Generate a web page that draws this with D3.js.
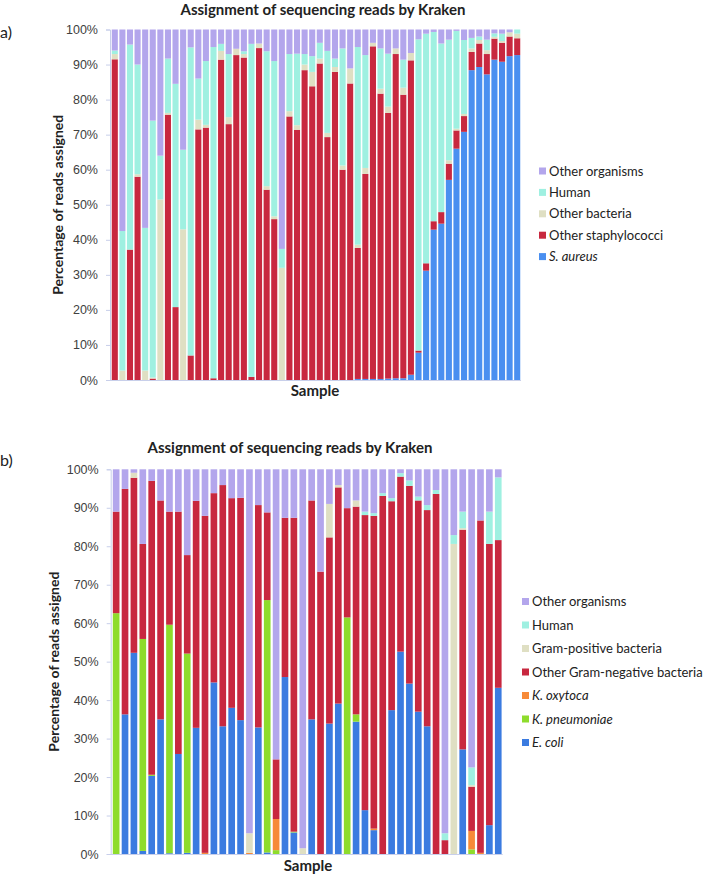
<!DOCTYPE html>
<html>
<head>
<meta charset="utf-8">
<title>Assignment of sequencing reads by Kraken</title>
<script src="https://d3js.org/d3.v7.min.js"></script>
<style>
  body { margin: 0; background: #fff; }
  svg { display: block; font-family: Lato, "Open Sans", sans-serif; }
</style>
</head>
<body>
<svg width="708" height="875"></svg>
<script>
// ---- panel a: S. aureus samples (percent of reads, one entry per sample) ----
const aAureus = [0,0,0,0,0,0,0,0,0,0,0,0,0,0,0,0,0,0,0,0,0,0,0,0,0,0,0,0,0,0,0,0,
  0.3,0.3,0.3,0.3,0.4,0.5,0.5,1.5,7.8,31.2,42.9,44.6,57.1,66,70.8,88.4,89.3,87.2,91.4,90.8,92.4,92.7];
const aStaph = [91.5,0,37.2,58,0,0.4,0,75.7,20.8,0,7,71.5,72,0.5,91.4,73,92.7,92,0.9,94.7,54.3,45.9,0,75.2,71.4,88.4,83.8,90.3,69.3,87.9,60,84.6,
  37.4,58.5,94.9,81.4,75.8,92.5,80.9,89.7,0.6,2.1,2.4,3.3,4.6,5.2,4.5,5.2,6.7,5.8,6,5.4,5.6,4.8];
const aOtherBact = [1.5,2.7,0,0.7,2.7,0.3,51.5,0.5,0,43,0,2.8,0.8,0,2.5,2,1.8,1,0,1.3,1,0.8,32,1.5,1.3,1.6,4.1,1.4,1.2,1.4,1.2,4.3,
  0.9,1.7,1,1.4,1.8,1.6,2,2.1,0,0,0,0,1,0.5,0.6,1,1,1.1,0.5,0.5,1.2,1.3];
const aHuman = [1,39.8,58.5,31.3,40.7,73.3,12.5,15.5,63.7,22.7,87.9,11.7,18.2,94.5,2,18,0,0.8,95,0,38.5,44.3,5.4,16.3,20.4,3,4.5,4.5,23.4,2.4,33.4,0,
  56.4,32.2,0,11.5,15.1,0,8,0,88.8,65.5,54,48.1,34.4,27.9,21.1,3,1,3,1,2.1,0,1.2];
const aOther = [6,57.5,4.3,10,56.6,26,36,8.3,15.5,34.3,5.1,14,9,5,4.1,7,5.5,6.2,4.1,4,6.2,9,62.6,7,6.9,7,7.6,3.8,6.1,8.3,5.4,11.1,
  5,7.3,3.8,5.4,6.9,5.4,8.6,6.7,2.8,1.2,0.7,4,2.9,0.4,3,2.4,2,2.9,1.1,1.2,0.8,0];

// ---- panel b: Gram-negative samples ----
const bEcoli = [0,36.3,52.3,0.8,20.3,35,0.2,26,0.3,32.8,0,44.6,33.2,38,34.8,0,32.9,0.4,0,46,5.6,0,35,0,33.9,39.1,0,34.4,11.4,6.2,0,37.4,52.6,44.3,37,33.2,0,0,0,27.2,0,0,7.5,43.2];
const bKpn = [62.6,0,0,55.1,0.3,0,59.4,0,51.8,0,0,0,0,0,0,0,0,65.6,1,0,0.2,0,0,0,0,0,61.5,1.9,0,0,0,0,0,0,0,0,0,0,0,0,1.2,0,0,0];
const bKox = [0,0,0,0,0,0,0,0,0,0,0.3,0,0,0,0,0.3,0,0,8.1,0,0,0,0,0,0,0,0,0,0,0.4,0,0,0,0,0,0,0,0,0,0,4.8,0.3,0,0];
const bOtherGN = [26.4,58.6,45.5,24.7,76.4,56.9,29.4,63,25.6,59,87.6,49.2,62.7,54.5,57.8,0,57.8,22.8,15.5,41.4,81.6,0,56.9,73.4,48.4,56.2,28.4,54,76.7,81.3,93.1,54.3,45.5,51.4,54.9,56.2,93.6,3.6,0,57.1,11.5,86.4,73.1,38.4];
const bGramPos = [0,0,1.3,0,0,0,0,0,0,0,0,0,0,0,0,5.1,0,0,0,0,0,1.5,0,0,8.7,0.6,0,1.6,0,0,0,0,0,0,0,0,0,0,80.6,0.4,0.4,0,0,0];
const bHuman = [0,0,0,0,0,0,0,0,0,0,0,0,0,0,0,0,0,0,0,0,0,0,0,0,0,0,0,0,0.9,0.7,0.7,0.8,0.9,1.4,1,1.3,1,1.8,2.3,4.3,4.6,0,8.4,16.3];
const bOther = [11,5.1,0.9,19.4,3,8.1,11,11,22.3,8.2,12.1,6.2,4.1,7.5,7.4,94.6,9.3,11.2,75.4,12.6,12.6,98.5,8.1,26.6,9,4.1,10.1,8.1,11,11.4,6.2,7.5,1,2.9,7.1,9.3,5.4,94.6,17.1,11,77.5,13.3,11,2.1];

const percentTicks = d3.range(0, 101, 10);
const titleText = "Assignment of sequencing reads by Kraken";

const svg = d3.select("svg");

function drawPanel(p) {
  const n = p.series[0].values.length;
  const rows = d3.range(n).map(i => {
    const r = { id: i };
    p.series.forEach(s => r[s.key] = s.values[i]);
    return r;
  });
  const keys = p.series.map(s => s.key);
  const stacked = d3.stack().keys(keys)(rows);

  const x = d3.scaleBand().domain(d3.range(n)).range([p.left, p.right]).paddingInner(p.pad).paddingOuter(p.pad / 2);
  const y = d3.scaleLinear().domain([0, 100]).range([p.bottom, p.top]);

  const g = svg.append("g");

  g.append("g")
    .selectAll("g")
    .data(stacked)
    .join("g")
    .attr("fill", d => p.series.find(s => s.key === d.key).color)
    .selectAll("rect")
    .data(d => d)
    .join("rect")
    .attr("x", d => x(d.data.id))
    .attr("width", x.bandwidth())
    .attr("y", d => y(d[1]))
    .attr("height", d => Math.max(0, y(d[0]) - y(d[1])));

  // axes
  const yAxis = g.append("g")
    .attr("transform", `translate(${p.left - 1},0)`)
    .call(d3.axisLeft(y).tickValues(percentTicks).tickFormat(d => d + "%").tickSize(4).tickPadding(8));
  yAxis.select(".domain").attr("stroke", "#c8cfea");
  yAxis.selectAll(".tick line").attr("stroke", "#c8cfea");
  yAxis.selectAll("text").attr("font-size", 12.5).attr("fill", "#404040");

  g.append("line")
    .attr("x1", p.left - 1).attr("x2", p.right)
    .attr("y1", p.bottom + 0.5).attr("y2", p.bottom + 0.5)
    .attr("stroke", "#c8cfea");

  // titles
  g.append("text")
    .attr("x", p.titleX).attr("y", p.titleY)
    .attr("text-anchor", "middle").attr("font-weight", "bold").attr("font-size", 15)
    .attr("fill", "#222")
    .text(titleText);

  g.append("text")
    .attr("x", 0).attr("y", p.letterY)
    .attr("font-size", 16).attr("fill", "#222")
    .text(p.letter);

  g.append("text")
    .attr("transform", `translate(${p.yLabelX},${(p.top + p.bottom) / 2}) rotate(-90)`)
    .attr("text-anchor", "middle").attr("font-weight", "bold").attr("font-size", 14)
    .attr("fill", "#222")
    .text("Percentage of reads assigned");

  g.append("text")
    .attr("x", p.sampleX).attr("y", p.sampleY)
    .attr("text-anchor", "middle").attr("font-weight", "bold").attr("font-size", 15)
    .attr("fill", "#222")
    .text("Sample");

  // legend, top entry is the top of the stack
  const legendItems = p.series.slice().reverse();
  const lg = g.append("g")
    .selectAll("g")
    .data(legendItems)
    .join("g")
    .attr("transform", (d, i) => `translate(${p.legendX},${p.legendY + i * p.legendStep})`);
  lg.append("rect")
    .attr("x", 0).attr("y", -3.5).attr("width", 7).attr("height", 7)
    .attr("fill", d => d.color);
  lg.append("text")
    .attr("x", 10).attr("y", 0).attr("dy", "0.35em")
    .attr("font-size", 13).attr("fill", "#222")
    .attr("font-style", d => d.italic ? "italic" : "normal")
    .text(d => d.label);
}

const cLav = "#b3a6ec", cAqua = "#9ff0e1", cBeige = "#dfdfc3", cRed = "#c8283f";

drawPanel({
  letter: "a)", letterY: 38,
  left: 111, right: 521, top: 29.5, bottom: 380, pad: 0.2,
  titleX: 323, titleY: 15,
  yLabelX: 63, sampleX: 315, sampleY: 396,
  legendX: 539, legendY: 171, legendStep: 21.4,
  series: [
    { key: "aureus", values: aAureus, color: "#4a8ff0", label: "S. aureus", italic: true },
    { key: "staph", values: aStaph, color: cRed, label: "Other staphylococci" },
    { key: "bact", values: aOtherBact, color: cBeige, label: "Other bacteria" },
    { key: "human", values: aHuman, color: cAqua, label: "Human" },
    { key: "other", values: aOther, color: cLav, label: "Other organisms" }
  ]
});

drawPanel({
  letter: "b)", letterY: 466,
  left: 111.7, right: 502.7, top: 469.3, bottom: 854, pad: 0.25,
  titleX: 290, titleY: 453,
  yLabelX: 59, sampleX: 308, sampleY: 871,
  legendX: 522, legendY: 601.5, legendStep: 23.5,
  series: [
    { key: "ecoli", values: bEcoli, color: "#3b7be0", label: "E. coli", italic: true },
    { key: "kpn", values: bKpn, color: "#8edc2c", label: "K. pneumoniae", italic: true },
    { key: "kox", values: bKox, color: "#f78a38", label: "K. oxytoca", italic: true },
    { key: "gn", values: bOtherGN, color: cRed, label: "Other Gram-negative bacteria" },
    { key: "gp", values: bGramPos, color: cBeige, label: "Gram-positive bacteria" },
    { key: "human", values: bHuman, color: cAqua, label: "Human" },
    { key: "other", values: bOther, color: cLav, label: "Other organisms" }
  ]
});
</script>
</body>
</html>
